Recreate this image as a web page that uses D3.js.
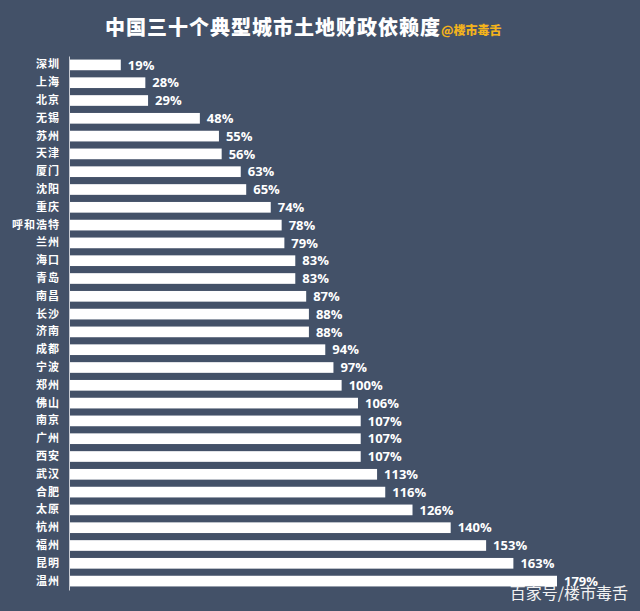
<!DOCTYPE html>
<html>
<head>
<meta charset="utf-8">
<script src="https://cdn.jsdelivr.net/npm/d3@7"></script>
<style>
  body { margin: 0; background: #435168; }
  svg { display: block; }
</style>
</head>
<body>
<svg id="chart"></svg>
<script>
// city names, top to bottom
var cities = ["深圳","上海","北京","无锡","苏州","天津","厦门","沈阳","重庆","呼和浩特",
              "兰州","海口","青岛","南昌","长沙","济南","成都","宁波","郑州","佛山",
              "南京","广州","西安","武汉","合肥","太原","杭州","福州","昆明","温州"];
// land-finance dependency, %
var values = [19,28,29,48,55,56,63,65,74,78,
              79,83,83,87,88,88,94,97,100,106,
              107,107,107,113,116,126,140,153,163,179];

var data = cities.map(function(c, i) { return {city: c, v: values[i]}; });

var W = 640, H = 611;
var margin = {top: 56, left: 69, bottom: 21};

var svg = d3.select("#chart").attr("width", W).attr("height", H);

svg.append("rect").attr("width", W).attr("height", H).attr("fill", "#435168");

// title
var title = svg.append("text")
    .attr("x", 105).attr("y", 35)
    .attr("font-family", "Noto Sans CJK SC")
    .attr("font-weight", 900)
    .attr("font-size", 20)
    .attr("letter-spacing", 1)
    .attr("fill", "#ffffff");
title.append("tspan").text("中国三十个典型城市土地财政依赖度");
title.append("tspan")
    .attr("dx", 0)
    .attr("font-size", 12)
    .attr("letter-spacing", 0)
    .attr("fill", "#f3b31c")
    .text("@楼市毒舌");

// scales
var x = d3.scaleLinear().domain([0, 179]).range([margin.left, 557]);
var y = d3.scaleBand()
    .domain(cities)
    .range([margin.top, H - margin.bottom])
    .paddingInner(0.4)
    .paddingOuter(0.2);

// bars
svg.selectAll(".bar")
    .data(data)
  .enter().append("rect")
    .attr("class", "bar")
    .attr("fill", "#ffffff")
    .attr("x", x(0))
    .attr("y", function(d) { return y(d.city); })
    .attr("width", function(d) { return x(d.v) - x(0); })
    .attr("height", y.bandwidth());

// value labels
svg.selectAll(".val")
    .data(data)
  .enter().append("text")
    .attr("class", "val")
    .attr("x", function(d) { return x(d.v) + 7; })
    .attr("y", function(d) { return y(d.city) + y.bandwidth() / 2; })
    .attr("dy", "0.36em")
    .attr("font-family", "Open Sans")
    .attr("font-weight", 700)
    .attr("font-size", 13)
    .attr("fill", "#ffffff")
    .text(function(d) { return d.v + "%"; });

// y axis
var yAxis = svg.append("g")
    .attr("transform", "translate(" + margin.left + ",0)")
    .call(d3.axisLeft(y).tickSize(0).tickPadding(9));
yAxis.select(".domain").attr("stroke", "#c8ccd4").attr("stroke-width", 1);
yAxis.selectAll("text")
    .attr("fill", "#ffffff")
    .attr("font-family", "Noto Sans CJK SC")
    .attr("font-weight", 700)
    .attr("font-size", 11)
    .attr("letter-spacing", 1);

// watermark
svg.append("text")
    .attr("x", 628).attr("y", 599)
    .attr("text-anchor", "end")
    .attr("font-family", "Noto Sans CJK SC")
    .attr("font-size", 16)
    .attr("fill", "#f2f2f2")
    .text("百家号/楼市毒舌");
</script>
</body>
</html>
